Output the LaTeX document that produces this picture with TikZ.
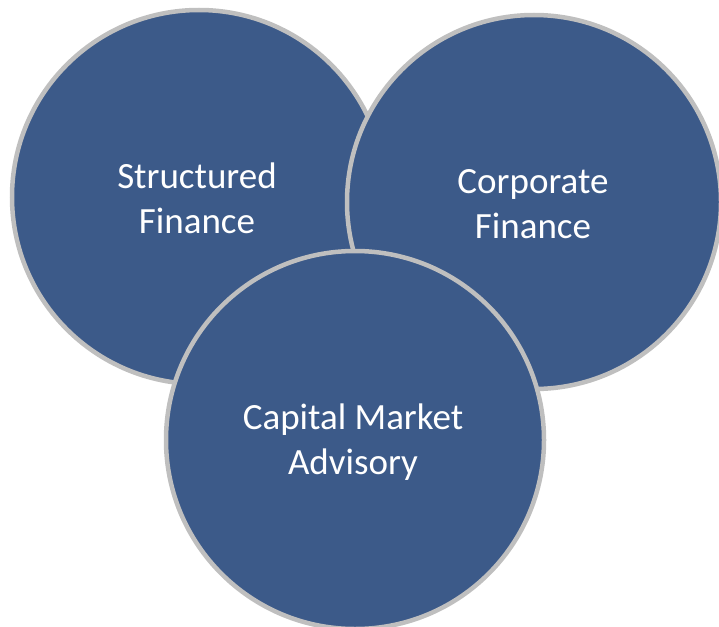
\documentclass[tikz,border=0pt]{standalone}
\usepackage{fontspec}
\setmainfont{Carlito}
\definecolor{discblue}{RGB}{60,90,137}
\definecolor{discrim}{RGB}{191,191,191}
\tikzset{
  disc/.style={circle, draw=discrim, line width=4.5pt, fill=discblue, minimum size=374pt, inner sep=0pt},
  disclabel/.style={text=white, align=center, anchor=base, font=\fontsize{37}{45}\selectfont}
}
\begin{document}
\begin{tikzpicture}[x=1pt,y=-1pt]
\useasboundingbox (0,0) rectangle (719,626);
\node[disc] (sf) at (199,197) {};
\node[disc] (cf) at (534,202) {};
\node[disc, minimum size=378pt] (cma) at (355,440) {};
\node[disclabel] (sft) at (197,233) {Structured\\Finance};
\node[disclabel] (cft) at (533,238) {Corporate\\Finance};
\node[disclabel] (cmat) at (353,474) {Capital Market\\Advisory};
\end{tikzpicture}
\end{document}
